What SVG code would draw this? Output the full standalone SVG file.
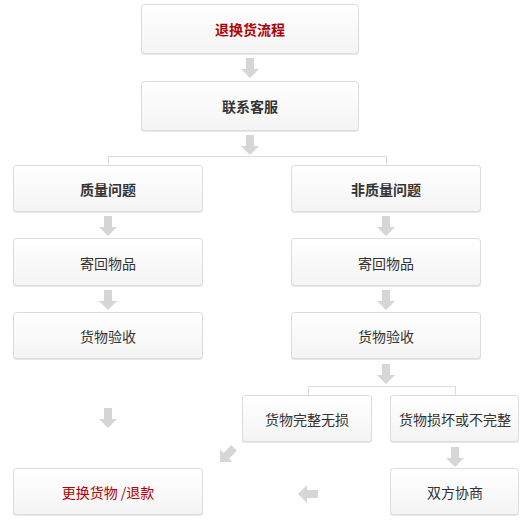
<svg xmlns="http://www.w3.org/2000/svg" width="527" height="521" viewBox="0 0 527 521">
<defs>
<linearGradient id="g" x1="0" y1="0" x2="0" y2="1">
<stop offset="0" stop-color="#ffffff"/>
<stop offset="1" stop-color="#f4f4f4"/>
</linearGradient>
<path id="ad" d="M-4 0 H4 V11 H9 L0 20 L-9 11 H-4 Z"/>
<style>
.box rect.b{fill:url(#g);stroke:#dcdcdc;stroke-width:1}
.box rect.s{fill:#e8e8e8}
.t{font-family:"Noto Sans CJK SC","Liberation Sans",sans-serif;font-size:14px;fill:#333;text-anchor:middle;dominant-baseline:central}
.bold{font-weight:bold}
.red{fill:#b00000}
.arr{fill:#d6d6d6}
.ln{fill:none;stroke:#dcdcdc;stroke-width:1}
</style>
</defs>
<rect width="527" height="521" fill="#fff"/>
<g id="connectors">
<path class="ln" d="M108.5 165 V156.5 H386.5 V165"/>
<path class="ln" d="M308.5 395 V386.5 H455.5 V395"/>
<use href="#ad" class="arr" x="250" y="58"/>
<use href="#ad" class="arr" x="250" y="135"/>
<use href="#ad" class="arr" x="108" y="216"/>
<use href="#ad" class="arr" x="108" y="290"/>
<use href="#ad" class="arr" x="386" y="216"/>
<use href="#ad" class="arr" x="386" y="290"/>
<use href="#ad" class="arr" x="386" y="364"/>
<use href="#ad" class="arr" x="108" y="408"/>
<use href="#ad" class="arr" x="455" y="447"/>
<use href="#ad" class="arr" transform="translate(308 494) rotate(90) translate(0 -10)"/>
<use href="#ad" class="arr" transform="translate(227 455) rotate(45) translate(0 -10)"/>
</g>
<g id="n1" class="box"><rect class="s" x="141" y="5" width="218" height="50" rx="3"/><rect class="b" x="141.5" y="4.5" width="217" height="49" rx="3"/><text class="t bold red" x="250" y="29">退换货流程</text></g>
<g id="n2" class="box"><rect class="s" x="141" y="82" width="218" height="50" rx="3"/><rect class="b" x="141.5" y="81.5" width="217" height="49" rx="3"/><text class="t bold" x="250" y="106">联系客服</text></g>
<g id="n3" class="box"><rect class="s" x="13" y="166" width="190" height="47" rx="3"/><rect class="b" x="13.5" y="165.5" width="189" height="46" rx="3"/><text class="t bold" x="108" y="189">质量问题</text></g>
<g id="n4" class="box"><rect class="s" x="291" y="166" width="190" height="47" rx="3"/><rect class="b" x="291.5" y="165.5" width="189" height="46" rx="3"/><text class="t bold" x="386" y="189">非质量问题</text></g>
<g id="n5" class="box"><rect class="s" x="13" y="239" width="190" height="48" rx="3"/><rect class="b" x="13.5" y="238.5" width="189" height="47" rx="3"/><text class="t" x="108" y="263">寄回物品</text></g>
<g id="n6" class="box"><rect class="s" x="291" y="239" width="190" height="48" rx="3"/><rect class="b" x="291.5" y="238.5" width="189" height="47" rx="3"/><text class="t" x="386" y="263">寄回物品</text></g>
<g id="n7" class="box"><rect class="s" x="13" y="313" width="190" height="47" rx="3"/><rect class="b" x="13.5" y="312.5" width="189" height="46" rx="3"/><text class="t" x="108" y="336">货物验收</text></g>
<g id="n8" class="box"><rect class="s" x="291" y="313" width="190" height="47" rx="3"/><rect class="b" x="291.5" y="312.5" width="189" height="46" rx="3"/><text class="t" x="386" y="336">货物验收</text></g>
<g id="n9" class="box"><rect class="s" x="242" y="396" width="130" height="47" rx="3"/><rect class="b" x="242.5" y="395.5" width="129" height="46" rx="3"/><text class="t" x="307" y="419">货物完整无损</text></g>
<g id="n10" class="box"><rect class="s" x="390" y="396" width="129" height="47" rx="3"/><rect class="b" x="390.5" y="395.5" width="128" height="46" rx="3"/><text class="t" x="455" y="419">货物损坏或不完整</text></g>
<g id="n11" class="box"><rect class="s" x="13" y="469" width="190" height="47" rx="3"/><rect class="b" x="13.5" y="468.5" width="189" height="46" rx="3"/><text class="t red" x="108" y="492">更换货物 /退款</text></g>
<g id="n12" class="box"><rect class="s" x="390" y="469" width="129" height="47" rx="3"/><rect class="b" x="390.5" y="468.5" width="128" height="46" rx="3"/><text class="t" x="455" y="492">双方协商</text></g>
</svg>
